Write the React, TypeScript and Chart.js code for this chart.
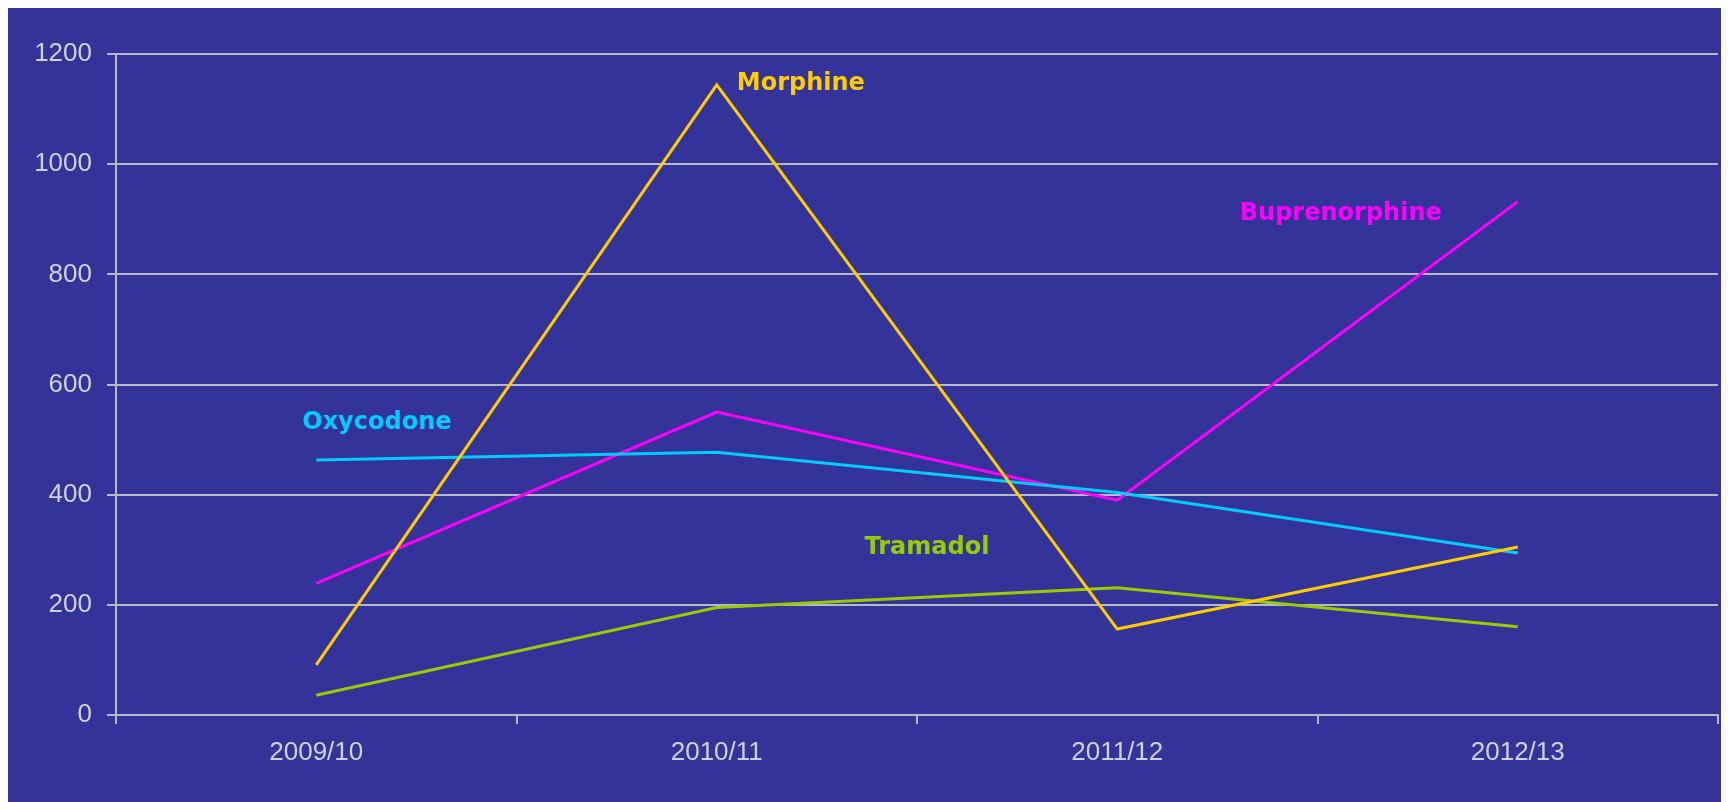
import React, { useEffect, useRef } from "react";
import { Chart, registerables } from "chart.js";

Chart.register(...registerables);

const categories = ["2009/10", "2010/11", "2011/12", "2012/13"];
const morphine = [91, 1144, 156, 305];
const oxycodone = [463, 477, 404, 294];
const buprenorphine = [239, 550, 390, 932];
const tramadol = [36, 195, 231, 160];

const seriesNames = ["Morphine", "Oxycodone", "Buprenorphine", "Tramadol"];
const seriesColors = ["#FFCC00", "#00CCFF", "#FF00FF", "#99CC00"];
// label anchors: [category position (fractional index), value]
const labelAnchorX = [1.05, -0.035, 2.306, 1.369];
const labelAnchorY = [1146, 530, 910, 303];

const yMin = 0;
const yMax = 1200;
const yStep = 200;

const BG = "#333399";
const GRID = "#b8b8c8";
const TICK_TEXT = "#d0d0dc";

const seriesLabelPlugin = {
  id: "seriesLabels",
  afterDatasetsDraw(chart: any) {
    const ctx = chart.ctx;
    const xs = chart.scales.x;
    const ys = chart.scales.y;
    ctx.save();
    ctx.font = "bold 24px 'DejaVu Sans', Verdana, sans-serif";
    ctx.textAlign = "left";
    ctx.textBaseline = "middle";
    seriesNames.forEach((name, i) => {
      ctx.fillStyle = seriesColors[i];
      ctx.fillText(name, xs.getPixelForValue(labelAnchorX[i]), ys.getPixelForValue(labelAnchorY[i]));
    });
    ctx.restore();
  },
};

const bgPlugin = {
  id: "bgFill",
  beforeDraw(chart: any) {
    const ctx = chart.ctx;
    ctx.save();
    ctx.fillStyle = BG;
    ctx.fillRect(0, 0, chart.width, chart.height);
    ctx.restore();
  },
};

export default function App() {
  const ref = useRef<HTMLCanvasElement | null>(null);
  useEffect(() => {
    document.documentElement.style.overflow = "hidden";
    document.body.style.overflow = "hidden";
    if (!ref.current) return;
    const seriesData = [morphine, oxycodone, buprenorphine, tramadol];
    const chart = new Chart(ref.current, {
      type: "line",
      data: {
        labels: categories,
        datasets: seriesNames.map((n, i) => ({
          label: n,
          data: seriesData[i],
          borderColor: seriesColors[i],
          backgroundColor: seriesColors[i],
          borderWidth: 3,
          pointRadius: 0,
          tension: 0,
          fill: false,
        })),
      },
      options: {
        animation: false,
        responsive: true,
        maintainAspectRatio: false,
        layout: { padding: { top: 46, right: 11, left: 0, bottom: 0 } },
        plugins: { legend: { display: false }, tooltip: { enabled: false } },
        scales: {
          x: {
            offset: true,
            grid: {
              offset: true,
              drawOnChartArea: true,
              color: (c: any) => (c.index === categories.length ? GRID : "rgba(0,0,0,0)"),
              tickColor: GRID,
              tickLength: 9,
              lineWidth: 2,
            },
            border: { color: GRID, width: 2 },
            ticks: {
              color: TICK_TEXT,
              padding: 13,
              font: { family: "'Liberation Sans', Arial, sans-serif", size: 26 },
              maxRotation: 0,
            },
            afterFit: (s: any) => {
              s.height = 87;
            },
          },
          y: {
            min: yMin,
            max: yMax,
            grid: { color: GRID, tickColor: GRID, tickLength: 9, lineWidth: 2 },
            border: { color: GRID, width: 2 },
            ticks: {
              stepSize: yStep,
              color: TICK_TEXT,
              padding: 15,
              font: { family: "'Liberation Sans', Arial, sans-serif", size: 26 },
              callback: (v: any) => String(v),
            },
            afterFit: (s: any) => {
              s.width = 108;
            },
          },
        },
      },
      plugins: [bgPlugin, seriesLabelPlugin],
    });
    return () => chart.destroy();
  }, []);
  return (
    <div style={{ width: 1721, height: 794, position: "relative" }}>
      <canvas ref={ref} />
    </div>
  );
}
